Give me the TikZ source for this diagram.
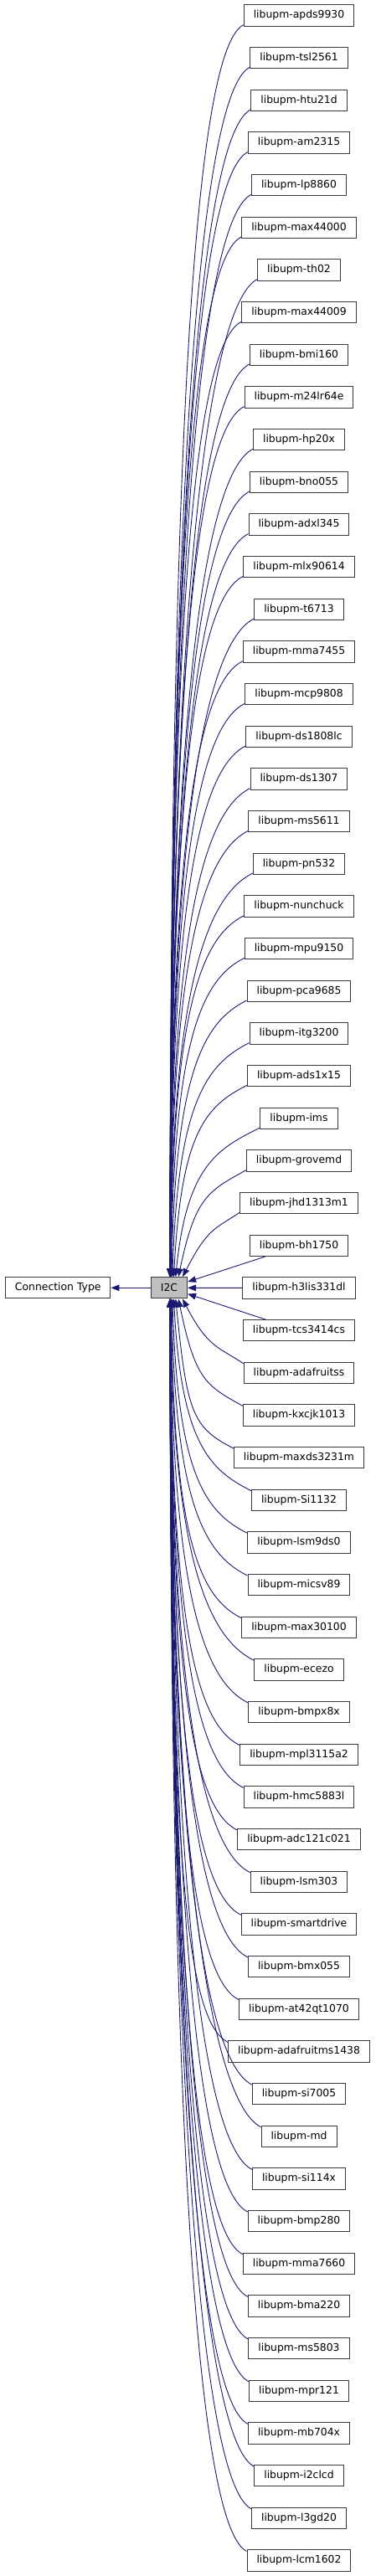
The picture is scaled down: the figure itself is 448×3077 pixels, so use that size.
\documentclass[tikz,border=0pt]{standalone}
\usepackage{fontspec}
\setmainfont{DejaVu Sans}
\usetikzlibrary{arrows.meta,calc}
\definecolor{edgecol}{HTML}{191970}
\definecolor{boxborder}{HTML}{3A3A3A}
\begin{document}
\begin{tikzpicture}[x=1pt,y=-1pt,
  box/.style={draw=boxborder, line width=1pt, fill=white, font=\fontsize{12.4}{14}\selectfont, inner xsep=11.5pt, inner ysep=0pt, minimum height=25.3pt, anchor=center},
  edge/.style={draw=edgecol, line width=0.9pt, -{Triangle[length=10pt,width=7.5pt]}}]
\useasboundingbox (0,0) rectangle (448,3077);
\node[box, fill=gray!50] (i2c) at (202,1538.3) {I2C};
\node[box] (ct) at (69.2,1538.3) {Connection Type};
\draw[edge] (i2c) -- (ct);
\foreach \nm [count=\i from 0] in {apds9930,tsl2561,htu21d,am2315,lp8860,max44000,th02,max44009,bmi160,m24lr64e,hp20x,bno055,adxl345,mlx90614,t6713,mma7455,mcp9808,ds1808lc,ds1307,ms5611,pn532,nunchuck,mpu9150,pca9685,itg3200,ads1x15,ims,grovemd,jhd1313m1,bh1750,h3lis331dl,tcs3414cs,adafruitss,kxcjk1013,maxds3231m,Si1132,lsm9ds0,micsv89,max30100,ecezo,bmpx8x,mpl3115a2,hmc5883l,adc121c021,lsm303,smartdrive,bmx055,at42qt1070,adafruitms1438,si7005,md,si114x,bmp280,mma7660,bma220,ms5803,mpr121,mb704x,i2clcd,l3gd20,lcm1602}{
  \pgfmathsetmacro\yy{18.5+\i*50.667}
  \node[box] (n\i) at (357,\yy) {libupm-\nm};
}
\foreach \i in {0,...,60}{
  \pgfmathtruncatemacro\d{\i-30}
  \pgfmathtruncatemacro\n{abs(\d)}
  \ifnum\n<2
    \draw[edge] (n\i) -- (i2c);
  \else
    \pgfmathsetmacro\yc{18.5+\i*50.667}
    \pgfmathsetmacro\ee{exp(-(\n-2)/2.5)}
    \pgfmathsetmacro\ox{1+15*\ee}
    \pgfmathsetmacro\cx{203+45*\ee}
    \pgfmathsetmacro\dx{0-min(50,15*\n)}
    \pgfmathsetmacro\dy{min(25,10*\n)}
    \ifnum\d<0
      \pgfmathsetmacro\g{1525.6-\yc-10.7}
      \pgfmathsetmacro\cy{1525.6-0.75*\g}
      \draw[edge] ($(n\i.south west)+(0,-2)$) .. controls ($(n\i.south west)+(\dx,-2+\dy)$) and (\cx,\cy) .. ($(i2c.north)+(\ox,0)$);
    \else
      \pgfmathsetmacro\g{\yc-10.7-1551}
      \pgfmathsetmacro\cy{1551+0.75*\g}
      \draw[edge] ($(n\i.north west)+(0,2)$) .. controls ($(n\i.north west)+(\dx,2-\dy)$) and (\cx,\cy) .. ($(i2c.south)+(\ox,0)$);
    \fi
  \fi
}
\end{tikzpicture}
\end{document}
